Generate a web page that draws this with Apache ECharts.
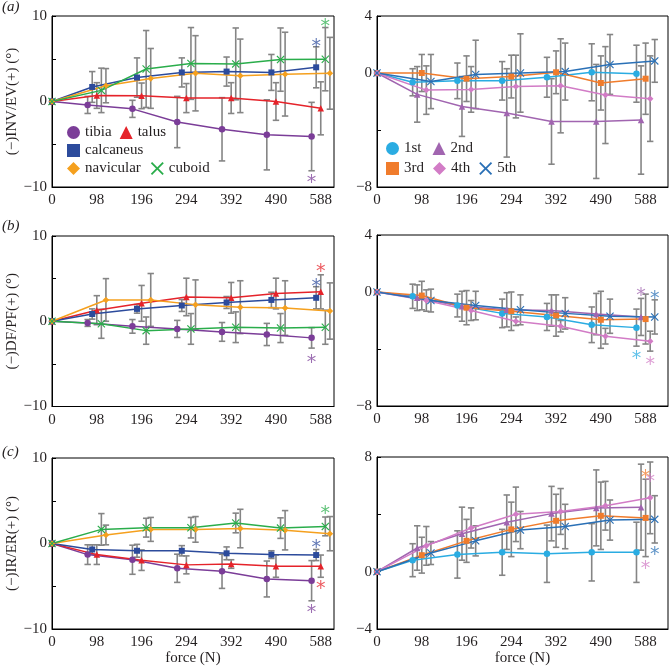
<!DOCTYPE html>
<html><head><meta charset="utf-8">
<script src="https://cdn.jsdelivr.net/npm/echarts@6/dist/echarts.min.js"></script>
<style>html,body{margin:0;padding:0;background:#fff}#c{width:671px;height:667px}</style>
</head><body><div id="c"></div>
<script>
// ---------- data ----------
const forces = [0, 98, 196, 294, 392, 490, 588];
const bonesL = ['tibia', 'talus', 'calcaneus', 'navicular', 'cuboid'];
const bonesR = ['1st', '2nd', '3rd', '4th', '5th'];

// (a) INV/EV
const invTibia = [0, -0.4, -0.86, -2.4, -3.25, -3.9, -4.1];
const invTibiaErr = [0, 1.0, 1.0, 3.0, 3.7, 4.1, 4.0];
const invTalus = [0, 0.7, 0.66, 0.4, 0.4, 0.0, -0.8];
const invTalusErr = [0, 1.5, 1.5, 1.7, 1.8, 2.2, 3.1];
const invCalc = [0, 1.7, 2.8, 3.4, 3.5, 3.4, 4.0];
const invCalcErr = [0, 1.8, 2.3, 1.7, 1.7, 2.1, 2.4];
const invNav = [0, 1.85, 2.7, 3.3, 3.0, 3.2, 3.3];
const invNavErr = [0, 2.0, 3.5, 4.4, 4.3, 4.9, 4.2];
const invCub = [0, 1.3, 3.8, 4.45, 4.4, 4.9, 4.95];
const invCubErr = [0, 2.6, 4.5, 4.2, 4.2, 3.7, 3.7];
const invM1 = [0, -0.65, -0.55, -0.55, -0.3, 0.05, -0.05];
const invM1Err = [0, 0.95, 1.25, 1.35, 1.4, 2.0, 2.0];
const invM2 = [0, -1.5, -2.35, -2.8, -3.4, -3.4, -3.3];
const invM2Err = [0, 1.95, 2.1, 3.1, 3.0, 4.0, 3.8];
const invM3 = [0, 0.0, -0.4, -0.25, 0.05, -0.7, -0.4];
const invM3Err = [0, 1.3, 1.6, 1.5, 1.5, 1.9, 2.5];
const invM4 = [0, -1.2, -1.15, -0.95, -0.9, -1.55, -1.8];
const invM4Err = [0, 1.7, 1.6, 2.2, 3.3, 3.4, 3.0];
const invM5 = [0, -0.6, -0.1, 0.0, 0.1, 0.6, 0.85];
const invM5Err = [0, 1.9, 2.4, 2.75, 2.0, 2.1, 1.5];

// (b) DF/PF
const dfTibia = [0, -0.2, -0.6, -0.9, -1.25, -1.55, -1.95];
const dfTibiaErr = [0, 0.4, 0.8, 1.0, 1.1, 1.3, 1.2];
const dfTalus = [0, 1.3, 2.1, 2.85, 2.75, 3.25, 3.45];
const dfTalusErr = [0, 1.7, 2.1, 2.2, 1.8, 1.8, 2.0];
const dfCalc = [0, 0.85, 1.45, 1.85, 2.2, 2.5, 2.75];
const dfCalcErr = [0, 0.6, 0.5, 0.7, 0.7, 0.9, 1.3];
const dfNav = [0, 2.5, 2.5, 1.95, 1.65, 1.55, 1.2];
const dfNavErr = [0, 2.5, 3.1, 2.9, 3.1, 3.2, 3.3];
const dfCub = [0, -0.3, -1.1, -0.9, -0.7, -0.8, -0.7];
const dfCubErr = [0, 1.7, 1.6, 1.8, 1.8, 1.7, 2.0];
const dfM1 = [0, -0.3, -0.95, -1.5, -1.75, -2.3, -2.5];
const dfM1Err = [0, 0.85, 0.8, 1.0, 0.95, 1.25, 1.3];
const dfM2 = [0, -0.4, -1.0, -1.25, -1.3, -1.55, -1.75];
const dfM2Err = [0, 0.9, 1.05, 1.2, 1.1, 1.45, 1.3];
const dfM3 = [0, -0.25, -1.1, -1.35, -1.65, -1.95, -1.9];
const dfM3Err = [0, 1.0, 1.2, 1.35, 1.45, 2.0, 1.75];
const dfM4 = [0, -0.6, -1.3, -2.05, -2.4, -3.1, -3.45];
const dfM4Err = [0, 0.75, 0.7, 0.3, 0.4, 0.55, 0.7];
const dfM5 = [0, -0.6, -0.95, -1.25, -1.5, -1.7, -1.75];
const dfM5Err = [0, 0.8, 1.0, 1.05, 1.1, 1.2, 1.2];

// (c) IR/ER
const irTibia = [0, -1.3, -1.9, -2.9, -3.25, -4.15, -4.35];
const irTibiaErr = [0, 1.15, 1.7, 1.65, 2.0, 2.1, 2.35];
const irTalus = [0, -1.3, -1.95, -2.5, -2.4, -2.65, -2.65];
const irTalusErr = [0, 1.15, 1.2, 1.05, 0.5, 1.3, 1.3];
const irCalc = [0, -0.7, -0.85, -0.85, -1.15, -1.3, -1.35];
const irCalcErr = [0, 0.55, 0.75, 0.6, 0.75, 0.45, 0.65];
const irNav = [0, 1.0, 1.65, 1.65, 1.75, 1.55, 1.15];
const irNavErr = [0, 1.15, 1.4, 1.5, 2.25, 2.3, 2.0];
const irCub = [0, 1.65, 1.85, 1.85, 2.4, 1.8, 2.0];
const irCubErr = [0, 1.85, 1.1, 1.2, 1.15, 1.2, 1.1];
const irM1 = [0, 0.8, 1.2, 1.35, 1.25, 1.35, 1.35];
const irM1Err = [0, 1.15, 1.65, 1.6, 2.0, 2.0, 2.1];
const irM2 = [0, 1.65, 2.65, 3.45, 4.05, 4.45, 4.5];
const irM2Err = [0, 1.55, 1.85, 1.9, 1.9, 2.65, 3.0];
const irM3 = [0, 1.15, 2.15, 2.95, 3.55, 3.9, 3.75];
const irM3Err = [0, 1.25, 1.5, 1.9, 1.85, 2.35, 2.7];
const irM4 = [0, 1.8, 3.05, 4.0, 4.2, 4.6, 5.15];
const irM4Err = [0, 1.35, 1.4, 1.9, 1.6, 1.7, 2.5];
const irM5 = [0, 1.3, 2.15, 2.9, 3.15, 3.6, 3.65];
const irM5Err = [0, 0.8, 1.05, 1.3, 1.55, 1.4, 1.65];

// significance markers at 588 N: [series, value, optional dodge override]
const starsAL = [['tibia', -9.0], ['calcaneus', 7.0], ['cuboid', 9.25]];
const starsAR = [];
const starsBL = [['talus', 6.3], ['calcaneus', 4.55], ['tibia', -4.3]];
const starsBR = [['2nd', 0.05], ['5th', -0.15], ['1st', -4.35], ['4th', -4.75]];
const starsCL = [['cuboid', 4.05], ['calcaneus', 0.05], ['talus', -4.8], ['tibia', -7.55]];
const starsCR = [['3rd', 6.85], ['4th', 6.6], ['5th', 1.5], ['4th', 0.55, 0]];

const yTitles = ['(\u2212)INV/EV(+) (\u00B0)', '(\u2212)DF/PF(+) (\u00B0)', '(\u2212)IR/ER(+) (\u00B0)'];
const panelLabels = ['(a)', '(b)', '(c)'];

// ---------- style ----------
const FONT = '"Liberation Serif", "Times New Roman", serif';
const TXT = '#231f20';
const XPATH = 'path://M0,1L1,0L5,4L9,0L10,1L6,5L10,9L9,10L5,6L1,10L0,9L4,5Z';
const style = {
  tibia: {c: '#7b3d98', s: 'circle', d: -2},
  talus: {c: '#e5232a', s: 'triangle', d: 0},
  calcaneus: {c: '#2c4b9c', s: 'rect', d: -1},
  navicular: {c: '#f5a01e', s: 'diamond', d: 2},
  cuboid: {c: '#2aad4b', s: XPATH, d: 1},
  '1st': {c: '#2aace2', s: 'circle', d: -2},
  '2nd': {c: '#a165b0', s: 'triangle', d: -1},
  '3rd': {c: '#f07c2c', s: 'rect', d: 0},
  '4th': {c: '#d27cc6', s: 'diamond', d: 1},
  '5th': {c: '#2a70b6', s: XPATH, d: 2}
};
const DODGE = 10;

const panels = [
  {names: bonesL, vals: [invTibia, invTalus, invCalc, invNav, invCub], errs: [invTibiaErr, invTalusErr, invCalcErr, invNavErr, invCubErr], stars: starsAL, ymin: -10, ymax: 10, yint: 5, left: true, row: 0},
  {names: bonesR, vals: [invM1, invM2, invM3, invM4, invM5], errs: [invM1Err, invM2Err, invM3Err, invM4Err, invM5Err], stars: starsAR, ymin: -8, ymax: 4, yint: 4, left: false, row: 0},
  {names: bonesL, vals: [dfTibia, dfTalus, dfCalc, dfNav, dfCub], errs: [dfTibiaErr, dfTalusErr, dfCalcErr, dfNavErr, dfCubErr], stars: starsBL, ymin: -10, ymax: 10, yint: 5, left: true, row: 1},
  {names: bonesR, vals: [dfM1, dfM2, dfM3, dfM4, dfM5], errs: [dfM1Err, dfM2Err, dfM3Err, dfM4Err, dfM5Err], stars: starsBR, ymin: -8, ymax: 4, yint: 4, left: false, row: 1},
  {names: bonesL, vals: [irTibia, irTalus, irCalc, irNav, irCub], errs: [irTibiaErr, irTalusErr, irCalcErr, irNavErr, irCubErr], stars: starsCL, ymin: -10, ymax: 10, yint: 5, left: true, row: 2},
  {names: bonesR, vals: [irM1, irM2, irM3, irM4, irM5], errs: [irM1Err, irM2Err, irM3Err, irM4Err, irM5Err], stars: starsCR, ymin: -4, ymax: 8, yint: 4, left: false, row: 2}
];

const gridL = {left: 52, width: 282, xmax: 617};
const gridR = {left: 377, width: 291, xmax: 637};
const rowTopsL = [16, 236, 458], rowHL = [171, 170.5, 172.5];
const rowTopsR = [16, 235, 457], rowHR = [171, 171, 172];

const grids = [], xAxes = [], yAxes = [], series = [];
const fmtNum = v => (v < 0 ? '\u2212' + Math.abs(v) : String(v));

panels.forEach((p, pi) => {
  const g = p.left ? gridL : gridR;
  grids.push({left: g.left, width: g.width,
    top: p.left ? rowTopsL[p.row] : rowTopsR[p.row],
    height: p.left ? rowHL[p.row] : rowHR[p.row],
    show: true, borderColor: '#000', borderWidth: 1, backgroundColor: 'transparent'});
  xAxes.push({type: 'value', gridIndex: pi, min: 0, max: g.xmax, interval: 98,
    axisLine: {onZero: false, lineStyle: {color: '#000', width: 1}}, axisTick: {show: false},
    splitLine: {show: false},
    axisLabel: {color: TXT, fontFamily: FONT, fontSize: 15, margin: 6, showMaxLabel: false,
      formatter: v => (v % 98 === 0 ? String(v) : '')},
    name: p.row === 2 ? 'force (N)' : '', nameLocation: 'middle', nameGap: 22,
    nameTextStyle: {color: TXT, fontFamily: FONT, fontSize: 15}});
  yAxes.push({type: 'value', gridIndex: pi, min: p.ymin, max: p.ymax, interval: p.yint,
    axisLine: {onZero: false, lineStyle: {color: '#000', width: 1}},
    axisTick: {show: true, inside: true, length: 4, lineStyle: {color: '#000'}},
    splitLine: {show: false},
    axisLabel: {color: TXT, fontFamily: FONT, fontSize: 15, margin: 5,
      formatter: v => (v === p.ymin || v === p.ymax || v === 0 ? fmtNum(v) : '')},
    name: p.left ? yTitles[p.row] : '', nameLocation: 'middle', nameGap: 31,
    nameTextStyle: {color: TXT, fontFamily: FONT, fontSize: 15}});

  p.names.forEach((nm, si) => {
    const st = style[nm];
    const xs = forces.map(f => (f === 0 ? 0 : f + st.d * DODGE));
    const ebData = [];
    forces.forEach((f, i) => {
      if (p.errs[si][i] > 0) ebData.push([xs[i], p.vals[si][i] - p.errs[si][i], p.vals[si][i] + p.errs[si][i]]);
    });
    series.push({type: 'custom', name: nm + '-err', xAxisIndex: pi, yAxisIndex: pi, z: 1,
      encode: {x: 0, y: [1, 2]}, data: ebData, silent: true,
      renderItem: (params, api) => {
        const x = api.value(0);
        const a = api.coord([x, api.value(1)]), b = api.coord([x, api.value(2)]);
        const w = 3.2, sty = {stroke: '#858585', lineWidth: 1.6};
        return {type: 'group', children: [
          {type: 'line', shape: {x1: a[0], y1: a[1], x2: b[0], y2: b[1]}, style: sty},
          {type: 'line', shape: {x1: a[0] - w, y1: a[1], x2: a[0] + w, y2: a[1]}, style: sty},
          {type: 'line', shape: {x1: b[0] - w, y1: b[1], x2: b[0] + w, y2: b[1]}, style: sty}
        ]};
      }});
    series.push({type: 'line', name: nm, xAxisIndex: pi, yAxisIndex: pi, z: 3,
      data: xs.map((x, i) => [x, p.vals[si][i]]),
      symbol: st.s, symbolSize: st.s === XPATH ? 8 : (st.s === 'rect' ? 6 : 6.5),
      showSymbol: true, animation: false,
      lineStyle: {color: st.c, width: 1.5}, itemStyle: {color: st.c}});
  });
  if (p.stars.length) {
    series.push({type: 'scatter', xAxisIndex: pi, yAxisIndex: pi, z: 4, silent: true,
      symbol: 'circle', symbolSize: 1, itemStyle: {color: 'rgba(0,0,0,0)'},
      data: p.stars.map(s => {
        const st = style[s[0]];
        const d = s.length > 2 ? s[2] : st.d;
        return {value: [588 + d * DODGE, s[1]],
          label: {show: true, formatter: '*', position: 'inside', offset: [0, 5],
            fontSize: 19, fontFamily: '"DejaVu Sans", sans-serif', color: st.c, opacity: 0.75}};
      })});
  }
});

const legTxt = {fontSize: 15, fontFamily: FONT, color: TXT};
const mkLeg = (left, top, items, gap) => ({left, top, padding: 0, itemWidth: 13, itemHeight: 13,
  itemGap: gap, selectedMode: false, textStyle: legTxt,
  data: items.map(n => ({name: n, icon: style[n].s, itemStyle: {color: style[n].c}}))});

const option = {
  animation: false,
  backgroundColor: '#fff',
  title: panelLabels.map((t, i) => ({text: t, left: 2, top: [0, 219, 445][i], padding: 0,
    textStyle: {fontStyle: 'italic', fontWeight: 'normal', fontSize: 15, fontFamily: FONT, color: TXT}})),
  legend: [
    mkLeg(67, 125, ['tibia', 'talus'], 8),
    mkLeg(67, 143, ['calcaneus'], 8),
    mkLeg(67, 161, ['navicular', 'cuboid'], 10),
    mkLeg(386, 141, ['1st', '2nd'], 11),
    mkLeg(386, 161, ['3rd', '4th', '5th'], 9)
  ],
  grid: grids, xAxis: xAxes, yAxis: yAxes, series
};
const chart = echarts.init(document.getElementById('c'), null, {renderer: 'canvas'});
chart.setOption(option);
</script></body></html>
